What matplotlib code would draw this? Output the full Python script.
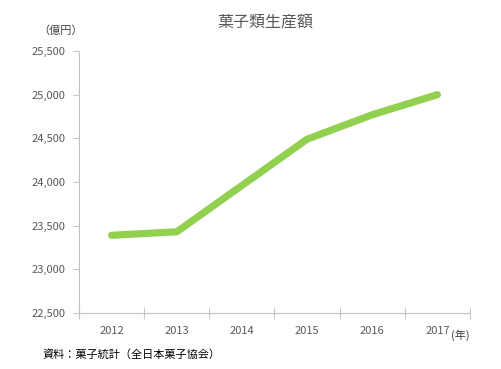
import numpy as np
import matplotlib
matplotlib.use("Agg")
import matplotlib.pyplot as plt
from matplotlib.ticker import FuncFormatter

plt.rcParams['font.family'] = ['Noto Sans CJK JP', 'DejaVu Sans']

years = ['2012', '2013', '2014', '2015', '2016', '2017']
values = [23390, 23430, 23960, 24490, 24770, 25000]
yticks = [22500, 23000, 23500, 24000, 24500, 25000, 25500]

fig = plt.figure(figsize=(5.02, 3.69), dpi=100)
ax = fig.add_axes([79 / 502, 1 - 313 / 369, (470 - 79) / 502, (313 - 51) / 369])

x = np.arange(len(years))
ax.plot(x, values, color='#92D050', linewidth=5.2, solid_capstyle='round',
        solid_joinstyle='round')

ax.set_xlim(-0.5, len(years) - 0.5)
ax.set_ylim(22500, 25500)
ax.set_yticks(yticks)
ax.yaxis.set_major_formatter(FuncFormatter(lambda v, p: f"{int(v):,}"))

# category labels centered, ticks at boundaries
ax.set_xticks(x)
ax.set_xticklabels(years)
ax.set_xticks(np.arange(-0.5, len(years)), minor=True)
ax.tick_params(axis='x', which='major', length=0, pad=9, labelsize=8, labelcolor='#595959')
ax.tick_params(axis='x', which='minor', length=8, direction='inout', color='#c8c8c8', width=0.8)
ax.tick_params(axis='y', length=4, color='#c8c8c8', width=0.8, pad=6, labelsize=8,
               labelcolor='#595959')

for s in ['top', 'right']:
    ax.spines[s].set_visible(False)
for s in ['left', 'bottom']:
    ax.spines[s].set_color('#c0c0c0')
    ax.spines[s].set_linestyle((0, (1, 1)))
    ax.spines[s].set_linewidth(0.8)

fig.text(265 / 502, 1 - 22 / 369, '菓子類生産額', ha='center', va='center',
         fontsize=11.5, color='#595959')
fig.text(61 / 502, 1 - 31 / 369, '（億円）', ha='center', va='center',
         fontsize=8, color='#404040')
fig.text(460 / 502, 1 - 335 / 369, '(年)', ha='center', va='center',
         fontsize=8, color='#404040')
fig.text(43 / 502, 1 - 355 / 369, '資料：菓子統計（全日本菓子協会）', ha='left', va='center',
         fontsize=8, color='#000000')

fig.savefig('out.png', dpi=100)
